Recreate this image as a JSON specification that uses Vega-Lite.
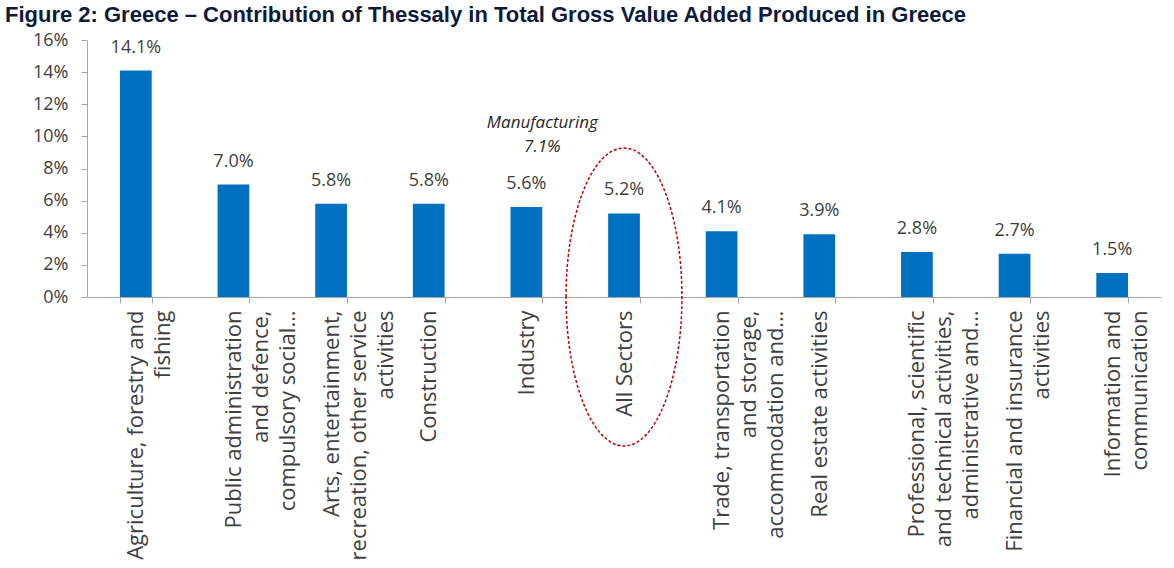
{
  "$schema": "https://vega.github.io/schema/vega-lite/v6.json",
  "autosize": {"type": "none"},
  "width": 1074,
  "height": 257,
  "padding": {"left": 87, "top": 40, "right": 13, "bottom": 271},
  "background": "white",
  "config": {"view": {"stroke": null}, "font": "Open Sans"},
  "title": {
    "text": "Figure 2: Greece – Contribution of Thessaly in Total Gross Value Added Produced in Greece",
    "font": "Liberation Sans",
    "fontSize": 22,
    "fontWeight": "bold",
    "color": "#0d1a3a",
    "anchor": "start",
    "frame": "group",
    "baseline": "alphabetic",
    "offset": 0,
    "dx": -82,
    "dy": 13
  },
  "datasets": {
    "sectors": [
      {"sector": "Agriculture, forestry and|fishing", "share": 0.141},
      {"sector": "Public administration|and defence,|compulsory social…", "share": 0.070},
      {"sector": "Arts, entertainment,|recreation, other service|activities", "share": 0.058},
      {"sector": "Construction", "share": 0.058},
      {"sector": "Industry", "share": 0.056},
      {"sector": "All Sectors", "share": 0.052},
      {"sector": "Trade, transportation|and storage,|accommodation and…", "share": 0.041},
      {"sector": "Real estate activities", "share": 0.039},
      {"sector": "Professional, scientific|and technical activities,|administrative and…", "share": 0.028},
      {"sector": "Financial and insurance|activities", "share": 0.027},
      {"sector": "Information and|communication", "share": 0.015}
    ],
    "notes": [
      {"sector": "Industry", "note": "Manufacturing", "share": 0.071}
    ],
    "highlight": [
      {"sector": "All Sectors", "share": 0}
    ]
  },
  "encoding": {
    "x": {
      "field": "sector",
      "type": "nominal",
      "sort": null,
      "scale": {"paddingInner": 0.675, "paddingOuter": 0.3375},
      "axis": {
        "title": null,
        "labelAngle": -90,
        "labelExpr": "split(datum.label, '|')",
        "labelFont": "Open Sans",
        "labelFontSize": 22,
        "labelLineHeight": 27,
        "labelColor": "#404040",
        "labelLimit": 0,
        "labelPadding": 7,
        "tickBand": "extent",
        "tickSize": 6,
        "tickColor": "#a6a6a6",
        "domainColor": "#a6a6a6",
        "labelOverlap": false
      }
    },
    "y": {
      "field": "share",
      "type": "quantitative",
      "scale": {"domain": [0, 0.16], "nice": false},
      "axis": {
        "title": null,
        "values": [0, 0.02, 0.04, 0.06, 0.08, 0.1, 0.12, 0.14, 0.16],
        "format": ".0%",
        "grid": false,
        "labelFont": "Open Sans",
        "labelFontSize": 18,
        "labelColor": "#404040",
        "labelPadding": 13,
        "tickSize": 6,
        "tickColor": "#a6a6a6",
        "domainColor": "#a6a6a6"
      }
    }
  },
  "layer": [
    {
      "data": {"name": "sectors"},
      "mark": {"type": "bar", "color": "#0070c0"}
    },
    {
      "data": {"name": "sectors"},
      "mark": {"type": "text", "baseline": "alphabetic", "dy": -18, "fontSize": 18, "color": "#404040", "font": "Open Sans"},
      "encoding": {"text": {"field": "share", "type": "quantitative", "format": ".1%"}}
    },
    {
      "data": {"name": "notes"},
      "mark": {"type": "text", "baseline": "alphabetic", "dx": 16, "dy": -55, "fontSize": 17, "fontStyle": "italic", "color": "#262626", "font": "Open Sans"},
      "encoding": {"text": {"field": "note", "type": "nominal"}}
    },
    {
      "data": {"name": "notes"},
      "mark": {"type": "text", "baseline": "alphabetic", "dx": 16, "dy": -31, "fontSize": 17, "fontStyle": "italic", "color": "#262626", "font": "Open Sans"},
      "encoding": {"text": {"field": "share", "type": "quantitative", "format": ".1%"}}
    },
    {
      "data": {"name": "highlight"},
      "mark": {
        "type": "point",
        "filled": false,
        "shape": "M-0.389,0C-0.389,-0.552,-0.215,-1,0,-1C0.215,-1,0.389,-0.552,0.389,0C0.389,0.552,0.215,1,0,1C-0.215,1,-0.389,0.552,-0.389,0Z",
        "size": 88804,
        "stroke": "#c00000",
        "strokeWidth": 1.5,
        "strokeDash": [3, 2],
        "opacity": 1
      }
    }
  ]
}
